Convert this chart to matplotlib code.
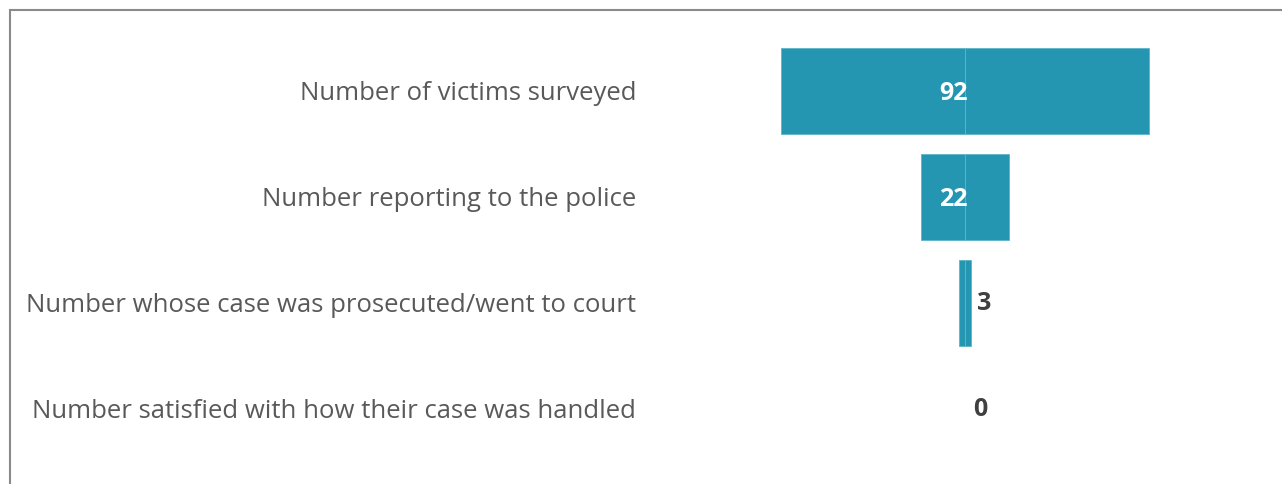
import matplotlib
matplotlib.use("Agg")
import matplotlib.pyplot as plt
from matplotlib.patches import Rectangle

stages = [
    "Number of victims surveyed",
    "Number reporting to the police",
    "Number whose case was prosecuted/went to court",
    "Number satisfied with how their case was handled",
]
counts = [92, 22, 3, 0]

BAR = "#2596b1"
EDGE = "#5db5ca"
W, H, DPI = 1282, 484, 100

fig = plt.figure(figsize=(W / DPI, H / DPI), dpi=DPI)
# axes covers the funnel area; centre of funnel at px 965, 4 px per unit
left_px = 650
ax = fig.add_axes([left_px / W, 0, 1 - left_px / W, 1])
ax.set_xlim((left_px - 965) / 4, (W - 965) / 4)
ax.set_ylim((H - 91) / 106, (0 - 91) / 106)

y = range(len(counts))
half = [c / 2 for c in counts]
for yi, h, c in zip(y, half, counts):
    if c == 0:
        continue
    ax.barh(yi, -h, height=0.81, color=BAR, edgecolor=EDGE, linewidth=0.6)
    ax.barh(yi, h, height=0.81, color=BAR, edgecolor=EDGE, linewidth=0.6)

for yi, h, c in zip(y, half, counts):
    if c >= 10:
        ax.text(-3, yi + 0.025, str(c), ha="center", va="center", color="white",
                fontsize=18, fontweight="bold", family="Open Sans")
    else:
        ax.text(h + 1.6 if c else 2.0, yi, str(c), ha="left", va="center",
                color="#404040", fontsize=18, fontweight="bold", family="Open Sans")

ax.set_yticks(list(y), stages, fontsize=18.5, color="#595959", family="Open Sans")
ax.tick_params(axis="y", length=0, pad=10)
ax.set_xticks([])
for s in ax.spines.values():
    s.set_visible(False)

fig.patches.append(Rectangle((9.5 / W, -0.1), 1.1, (H - 9.5) / H + 0.1,
                             transform=fig.transFigure, fill=False,
                             edgecolor="#8a8a8a", linewidth=1.5))

fig.savefig("out.png", dpi=DPI)
